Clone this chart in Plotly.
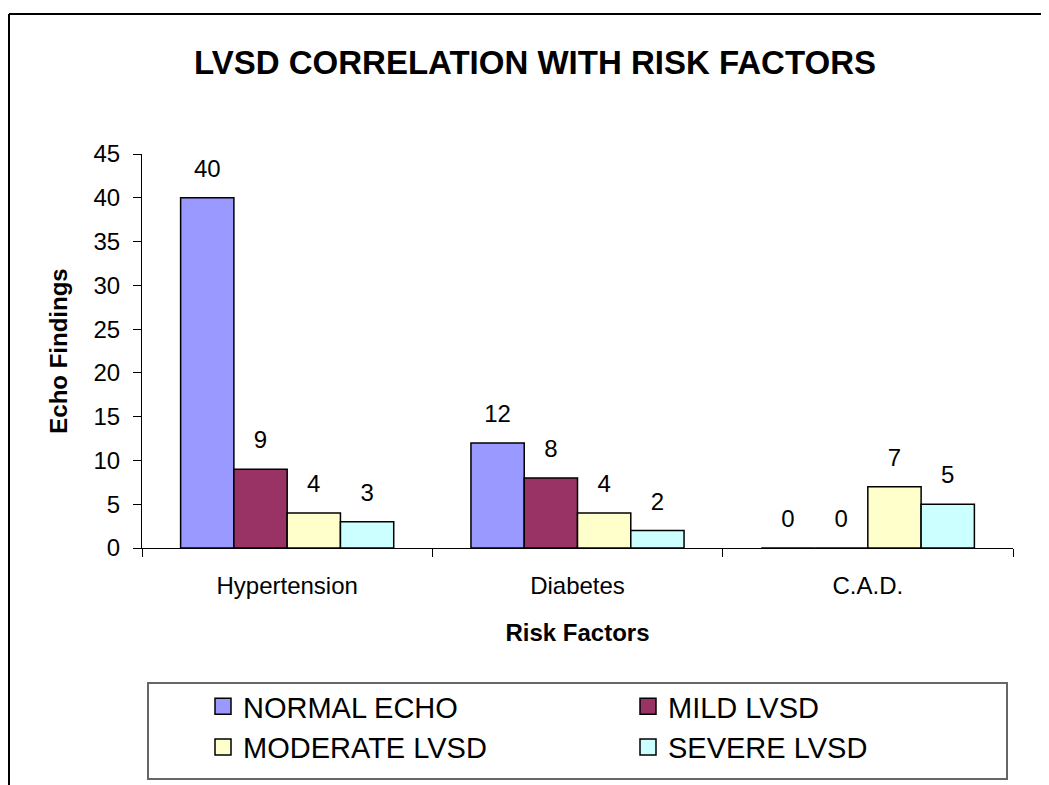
import plotly.graph_objects as go

# Data
risk_factors = ['Hypertension', 'Diabetes', 'C.A.D.']
normal_echo = [40, 12, 0]
mild_lvsd = [9, 8, 0]
moderate_lvsd = [4, 4, 7]
severe_lvsd = [3, 2, 5]

series_names = ['NORMAL ECHO', 'MILD LVSD', 'MODERATE LVSD', 'SEVERE LVSD']
series_colors = ['#9999FF', '#993366', '#FFFFCC', '#CCFFFF']
series_values = [normal_echo, mild_lvsd, moderate_lvsd, severe_lvsd]

# page body has an 8px margin, so the figure sits at (8, 8) on screen
OFF = 8
W, H = 1049 - OFF, 785 - OFF
# plot area in screen pixels
L, R, T, B = 142, 1013, 154, 548
FONT = 'Arial, Liberation Sans, sans-serif'
BARGAP = 0.266


def px_x(x):
    """screen x -> paper x"""
    return (x - L) / (R - L)


def px_y(y):
    """screen y -> paper y"""
    return (B - y) / (B - T)


fig = go.Figure()

# bars
for i, (name, color, vals) in enumerate(zip(series_names, series_colors, series_values)):
    fig.add_trace(go.Bar(
        x=risk_factors,
        y=vals,
        name=name,
        offsetgroup=str(i),
        marker=dict(color=color, line=dict(color='black', width=1.5)),
        showlegend=False,
    ))

# value labels, grouped like the bars so they sit above each one
for i, vals in enumerate(series_values):
    fig.add_trace(go.Scatter(
        x=risk_factors,
        y=vals,
        offsetgroup=str(i),
        mode='markers+text',
        text=[str(v) for v in vals],
        textposition='top center',
        textfont=dict(family=FONT, size=24, color='black'),
        marker=dict(size=22, color='rgba(0,0,0,0)'),
        cliponaxis=False,
        showlegend=False,
        hoverinfo='skip',
    ))

# legend entries with bigger squares
for name, color in zip(series_names, series_colors):
    fig.add_trace(go.Scatter(
        x=[None], y=[None],
        mode='markers',
        name=name,
        marker=dict(symbol='square', size=16, color=color,
                    line=dict(color='black', width=1.5)),
    ))

# outer chart border (top and left edges visible) and legend frame
fig.add_shape(type='line', xref='paper', yref='paper',
              x0=px_x(OFF + 1), x1=px_x(1060), y0=px_y(14), y1=px_y(14),
              line=dict(color='black', width=2))
fig.add_shape(type='line', xref='paper', yref='paper',
              x0=px_x(OFF + 1), x1=px_x(OFF + 1), y0=px_y(14), y1=px_y(800),
              line=dict(color='black', width=2))
fig.add_shape(type='rect', xref='paper', yref='paper',
              x0=px_x(148), x1=px_x(1007), y0=px_y(779), y1=px_y(683),
              line=dict(color='#666666', width=2))

fig.update_layout(
    width=W,
    height=H,
    margin=dict(l=L - OFF, r=W - (R - OFF), t=T - OFF, b=H - (B - OFF),
                autoexpand=False),
    paper_bgcolor='white',
    plot_bgcolor='white',
    font=dict(family=FONT, size=24, color='black'),
    barmode='group',
    bargap=BARGAP,
    bargroupgap=0,
    scattermode='group',
    scattergap=BARGAP,
    title=dict(
        text='<b>LVSD CORRELATION WITH RISK FACTORS</b>',
        x=(535 - OFF) / W, xref='container', xanchor='center',
        y=1 - (62 - OFF) / H, yref='container', yanchor='middle',
        font=dict(family=FONT, size=33, color='black'),
    ),
    legend=dict(
        orientation='h',
        x=(203 - OFF) / W, xref='container', xanchor='left',
        y=1 - (681 - OFF) / H, yref='container', yanchor='top',
        entrywidth=380,
        tracegroupgap=0,
        borderwidth=0,
        bgcolor='rgba(0,0,0,0)',
        font=dict(family=FONT, size=29, color='black'),
    ),
)

fig.update_xaxes(
    type='category',
    showline=True, linecolor='black', linewidth=1,
    ticks='outside', tickson='boundaries', ticklen=8, tickcolor='black',
    ticklabelstandoff=16,
    showgrid=False,
    title=dict(text='<b>Risk Factors</b>', standoff=26,
               font=dict(family=FONT, size=24)),
    tickfont=dict(family=FONT, size=24),
)
fig.update_yaxes(
    range=[0, 45], dtick=5,
    showline=True, linecolor='black', linewidth=1,
    ticks='outside', ticklen=8, tickcolor='black',
    ticklabelstandoff=8,
    showgrid=False, zeroline=False,
    title=dict(text='<b>Echo Findings</b>', standoff=19,
               font=dict(family=FONT, size=24)),
    tickfont=dict(family=FONT, size=24),
)

fig.write_html("out.html")
